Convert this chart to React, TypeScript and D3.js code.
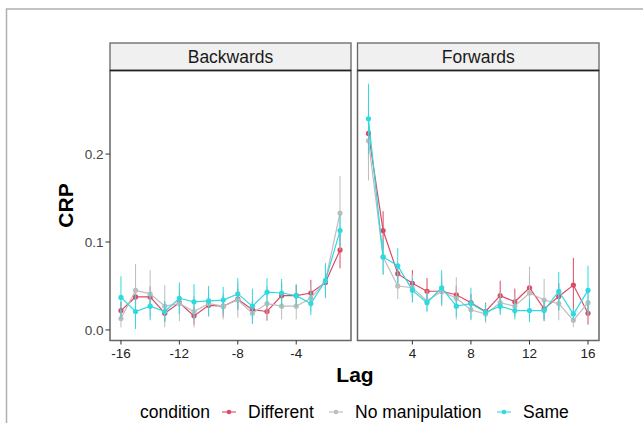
import * as d3 from "d3";

const backLags = [-16, -15, -14, -13, -12, -11, -10, -9, -8, -7, -6, -5, -4, -3, -2, -1];
const fwdLags = [1, 2, 3, 4, 5, 6, 7, 8, 9, 10, 11, 12, 13, 14, 15, 16];

// CRP means, backwards panel
const diffBack = [0.022, 0.0375, 0.0375, 0.019, 0.031, 0.016, 0.028, 0.027, 0.035, 0.023, 0.021, 0.039, 0.039, 0.042, 0.054, 0.091];
const noneBack = [0.013, 0.045, 0.041, 0.027, 0.03, 0.021, 0.03, 0.027, 0.034, 0.019, 0.03, 0.027, 0.027, 0.036, 0.056, 0.133];
const sameBack = [0.037, 0.021, 0.027, 0.021, 0.036, 0.032, 0.033, 0.034, 0.041, 0.027, 0.043, 0.042, 0.039, 0.03, 0.056, 0.113];
// error bar half widths, backwards panel
const diffBackErr = [0.01, 0.012, 0.012, 0.01, 0.012, 0.01, 0.012, 0.012, 0.012, 0.01, 0.01, 0.015, 0.012, 0.015, 0.015, 0.021];
const noneBackErr = [0.01, 0.03, 0.027, 0.024, 0.02, 0.018, 0.015, 0.015, 0.02, 0.012, 0.02, 0.015, 0.015, 0.015, 0.018, 0.042];
const sameBackErr = [0.024, 0.02, 0.016, 0.012, 0.018, 0.02, 0.017, 0.015, 0.018, 0.02, 0.016, 0.016, 0.013, 0.013, 0.02, 0.018];

// forwards panel
const diffFwd = [0.2235, 0.113, 0.064, 0.053, 0.044, 0.044, 0.04, 0.031, 0.021, 0.039, 0.032, 0.048, 0.024, 0.038, 0.051, 0.019];
const noneFwd = [0.215, 0.083, 0.05, 0.048, 0.033, 0.044, 0.036, 0.023, 0.018, 0.031, 0.027, 0.042, 0.034, 0.03, 0.011, 0.031];
const sameFwd = [0.24, 0.083, 0.073, 0.045, 0.031, 0.048, 0.027, 0.03, 0.02, 0.027, 0.022, 0.022, 0.022, 0.044, 0.018, 0.045];
const diffFwdErr = [0.03, 0.022, 0.01, 0.015, 0.015, 0.012, 0.01, 0.01, 0.01, 0.017, 0.015, 0.013, 0.012, 0.015, 0.031, 0.013];
const noneFwdErr = [0.045, 0.02, 0.015, 0.015, 0.012, 0.017, 0.024, 0.012, 0.01, 0.012, 0.012, 0.03, 0.024, 0.019, 0.008, 0.015];
const sameFwdErr = [0.04, 0.02, 0.02, 0.014, 0.01, 0.02, 0.012, 0.018, 0.01, 0.01, 0.01, 0.013, 0.012, 0.022, 0.007, 0.028];

const conditions = ["Different", "No manipulation", "Same"];
const colors = ["#DC4A65", "#BDBDBD", "#2ED9E0"];
const yTicks = [0, 0.1, 0.2];
const backTicks = [-16, -12, -8, -4];
const fwdTicks = [4, 8, 12, 16];

const font = "'Liberation Sans', Arial, sans-serif";

type Panel = {
  title: string;
  lags: number[];
  series: number[][];
  errs: number[][];
  ticks: number[];
  x0: number;
  x1: number;
};

const panels: Panel[] = [
  {
    title: "Backwards",
    lags: backLags,
    series: [diffBack, noneBack, sameBack],
    errs: [diffBackErr, noneBackErr, sameBackErr],
    ticks: backTicks,
    x0: 110,
    x1: 351,
  },
  {
    title: "Forwards",
    lags: fwdLags,
    series: [diffFwd, noneFwd, sameFwd],
    errs: [diffFwdErr, noneFwdErr, sameFwdErr],
    ticks: fwdTicks,
    x0: 357.5,
    x1: 599,
  },
];

const stripTop = 43;
const panelTop = 70.5;
const panelBottom = 340.5;

export default function App() {
  const y = d3.scaleLinear().domain([-0.012, 0.295]).range([panelBottom, panelTop]);

  return (
    <svg
      width={643}
      height={423}
      style={{ position: "fixed", left: 0, top: 0, background: "white" }}
      fontFamily={font}
    >
      {/* outer frame */}
      <rect x={6.5} y={9} width={700} height={500} fill="none" stroke="#b0b0b0" strokeWidth={1.5} />

      {panels.map((p, pi) => {
        const ext = d3.extent(p.lags) as [number, number];
        const pad = (ext[1] - ext[0]) * 0.05;
        const x = d3.scaleLinear().domain([ext[0] - pad, ext[1] + pad]).range([p.x0, p.x1]);
        const line = d3
          .line<number>()
          .x((_, i) => x(p.lags[i]))
          .y((d) => y(d));
        return (
          <g key={pi}>
            <rect x={p.x0} y={stripTop} width={p.x1 - p.x0} height={panelTop - stripTop} fill="#F0F0F0" stroke="#666" strokeWidth={1.3} />
            <text x={(p.x0 + p.x1) / 2} y={63} textAnchor="middle" fontSize={17.5} fill="#1A1A1A">
              {p.title}
            </text>
            <rect x={p.x0} y={panelTop} width={p.x1 - p.x0} height={panelBottom - panelTop} fill="white" />
            {p.series.map((s, si) => (
              <g key={si}>
                {s.map((v, i) => (
                  <line
                    key={i}
                    x1={x(p.lags[i])}
                    x2={x(p.lags[i])}
                    y1={y(v - p.errs[si][i])}
                    y2={y(v + p.errs[si][i])}
                    stroke={colors[si]}
                    strokeWidth={1}
                  />
                ))}
                <path d={line(s) ?? ""} fill="none" stroke={colors[si]} strokeWidth={1.2} />
                {s.map((v, i) => (
                  <circle key={i} cx={x(p.lags[i])} cy={y(v)} r={2.6} fill={colors[si]} />
                ))}
              </g>
            ))}
            <rect x={p.x0} y={panelTop} width={p.x1 - p.x0} height={panelBottom - panelTop} fill="none" stroke="#666" strokeWidth={1.5} />
            <line x1={p.x0} x2={p.x1} y1={panelTop} y2={panelTop} stroke="#222" strokeWidth={1.3} />
            {p.ticks.map((t) => (
              <g key={t}>
                <line x1={x(t)} x2={x(t)} y1={panelBottom} y2={panelBottom + 4} stroke="#333" strokeWidth={1} />
                <text x={x(t)} y={358} textAnchor="middle" fontSize={13.5} fill="#222">
                  {t}
                </text>
              </g>
            ))}
            {pi === 0 &&
              yTicks.map((t) => (
                <g key={t}>
                  <line x1={p.x0 - 4.5} x2={p.x0} y1={y(t)} y2={y(t)} stroke="#333" strokeWidth={1} />
                  <text x={p.x0 - 6.5} y={y(t) + 4.8} textAnchor="end" fontSize={13.5} fill="#444">
                    {t.toFixed(1)}
                  </text>
                </g>
              ))}
          </g>
        );
      })}

      <text x={355} y={382} textAnchor="middle" fontSize={21} fontWeight="bold" fill="black">
        Lag
      </text>
      <text
        transform={`translate(73, ${(panelTop + panelBottom) / 2}) rotate(-90)`}
        textAnchor="middle"
        fontSize={21}
        fontWeight="bold"
        fill="black"
      >
        CRP
      </text>

      {/* legend */}
      <text x={140} y={418} fontSize={17.5} fill="black">
        condition
      </text>
      {conditions.map((c, i) => {
        const kx = [229, 336, 504][i];
        return (
          <g key={c}>
            <line x1={kx - 7} x2={kx + 7} y1={412} y2={412} stroke={colors[i]} strokeWidth={1.1} />
            <circle cx={kx} cy={412} r={2.3} fill={colors[i]} />
            <text x={kx + 19} y={418} fontSize={17.5} fill="black">
              {c}
            </text>
          </g>
        );
      })}
    </svg>
  );
}
